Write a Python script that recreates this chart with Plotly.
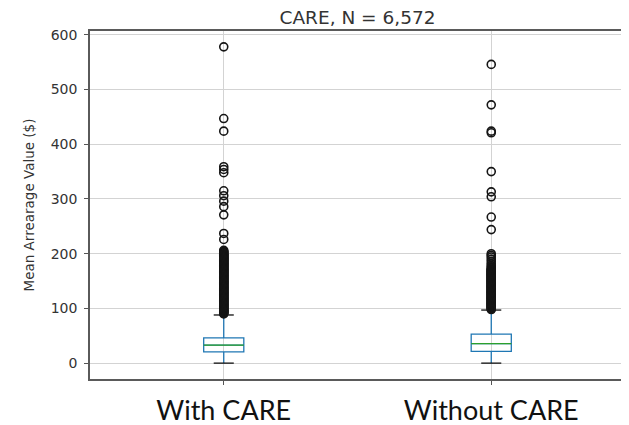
import plotly.graph_objects as go

# ---------------- data ----------------
groups = ["With CARE", "Without CARE"]
positions = [1, 2]
q1 = [20.6, 21.4]
medians = [32.9, 35.5]
q3 = [46.2, 53.0]
lower_whisker = [0, 0]
upper_whisker = [88, 97]

outliers_with = [
    578, 447, 424, 359, 354, 348, 315, 306, 296, 286, 271, 237, 226,
    206, 204, 203, 202, 200, 199, 198, 197, 196, 195, 194, 193, 192, 191,
    190, 189, 188, 187, 186, 185, 184, 183, 182, 181, 180, 179, 178, 177,
    176, 175, 174, 173, 172, 171, 170, 169, 168, 167, 166, 165, 164, 163,
    162, 161, 160, 159, 158, 157, 156, 155, 154, 153, 152, 151, 150, 149,
    148, 147, 146, 145, 144, 143, 142, 141, 140, 139, 138, 137, 136, 135,
    134, 133, 132, 131, 130, 129, 128, 127, 126, 125, 124, 123, 122, 121,
    120, 119, 118, 117, 116, 115, 114, 113, 112, 111, 110, 109, 108, 107,
    106, 105, 104, 103, 102, 101, 100, 99, 98, 97, 96, 95, 94, 93, 92, 91,
    90,
]
outliers_without = [
    546, 472, 424, 421, 350, 313, 304, 267, 244,
    200, 197, 194, 190, 186, 182, 179, 176, 174, 172, 171, 170, 169, 168,
    167, 166, 165, 164, 163, 162, 161, 160, 159, 158, 157, 156, 155, 154,
    153, 152, 151, 150, 149, 148, 147, 146, 145, 144, 143, 142, 141, 140,
    139, 138, 137, 136, 135, 134, 133, 132, 131, 130, 129, 128, 127, 126,
    125, 124, 123, 122, 121, 120, 119, 118, 117, 116, 115, 114, 113, 112,
    111, 110, 109, 108, 107, 106, 105, 104, 103, 102, 101, 100, 99, 98,
]

y_ticks = [0, 100, 200, 300, 400, 500, 600]
title_text = "CARE, N = 6,572"
y_title = "Mean Arrearage Value ($)"

# ---------------- styles ----------------
BOX_W = 0.15
BLUE = "#1f77b4"
GREEN = "#2ca02c"
PAGE_OFFSET = 8  # default body margin of the html page

fig = go.Figure()

fig.add_trace(go.Box(
    x=positions, q1=q1, median=medians, q3=q3,
    lowerfence=lower_whisker, upperfence=upper_whisker,
    width=BOX_W, whiskerwidth=0, boxpoints=False,
    line=dict(color=BLUE, width=1.3), fillcolor="rgba(0,0,0,0)",
    hoverinfo="skip",
))

# medians (green)
mx, my = [], []
for p, m in zip(positions, medians):
    mx += [p - BOX_W / 2, p + BOX_W / 2, None]
    my += [m, m, None]
fig.add_trace(go.Scatter(x=mx, y=my, mode="lines",
                         line=dict(color=GREEN, width=1.3), hoverinfo="skip"))

# caps (black)
cx, cy = [], []
for p, lo, hi in zip(positions, lower_whisker, upper_whisker):
    for v in (lo, hi):
        cx += [p - BOX_W / 4, p + BOX_W / 4, None]
        cy += [v, v, None]
fig.add_trace(go.Scatter(x=cx, y=cy, mode="lines",
                         line=dict(color="#111", width=1.3), hoverinfo="skip"))

# fliers
fx = [positions[0]] * len(outliers_with) + [positions[1]] * len(outliers_without)
fy = outliers_with + outliers_without
fig.add_trace(go.Scatter(
    x=fx, y=fy, mode="markers",
    marker=dict(symbol="circle-open", size=8, color="#151515", line=dict(width=1.6)),
    hoverinfo="skip",
))

axis_common = dict(
    showgrid=True, gridcolor="#d3d3d3", gridwidth=1,
    showline=True, linecolor="#5a5a5a", linewidth=1.5, mirror=True,
    ticks="outside", ticklen=4, tickcolor="#555", zeroline=False,
    automargin=False,
)

W, H = 629 - PAGE_OFFSET, 425 - PAGE_OFFSET
fig.update_layout(
    width=W, height=H,
    margin=dict(l=90 - PAGE_OFFSET, r=4, t=31 - PAGE_OFFSET, b=46),
    plot_bgcolor="white", paper_bgcolor="white",
    showlegend=False,
    title=dict(text=title_text, x=0.5, xref="paper",
               y=1 - (17.5 - PAGE_OFFSET) / H,
               yref="container", yanchor="middle", xanchor="center",
               font=dict(family="DejaVu Sans", size=18.5, color="#333")),
    xaxis=dict(range=[0.5, 2.5], tickvals=positions, ticktext=groups,
               tickfont=dict(family="Lato", size=27, color="#111"),
               ticklabelstandoff=3, **axis_common),
    yaxis=dict(range=[-29, 607], tickvals=y_ticks,
               tickfont=dict(family="DejaVu Sans", size=14, color="#333"),
               ticklabelstandoff=4,
               title=dict(text=y_title, standoff=13,
                          font=dict(family="DejaVu Sans", size=13.5, color="#333")),
               **axis_common),
)

fig.write_html("out.html")
